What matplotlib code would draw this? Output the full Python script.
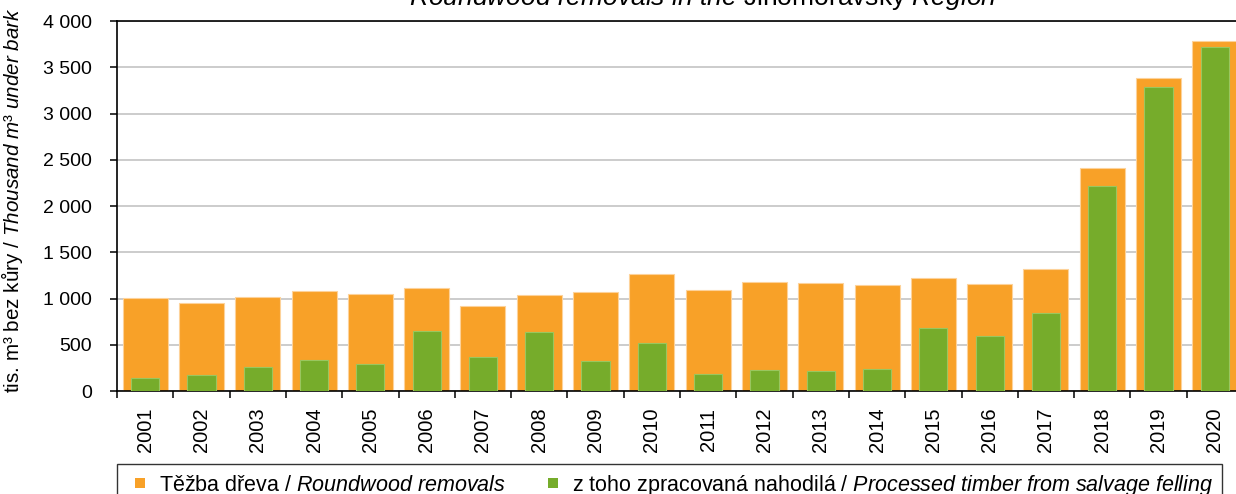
import matplotlib
matplotlib.use("Agg")
import matplotlib.pyplot as plt
import numpy as np
from matplotlib.ticker import FuncFormatter, FixedLocator
from matplotlib.patches import Rectangle
from matplotlib.legend_handler import HandlerPatch

plt.rcParams['font.family'] = ['Liberation Sans', 'DejaVu Sans']
plt.rcParams['mathtext.fontset'] = 'custom'
plt.rcParams['mathtext.rm'] = 'Liberation Sans'
plt.rcParams['mathtext.it'] = 'Liberation Sans:italic'

# data
years = [str(y) for y in range(2001, 2021)]
removals = [1005, 955, 1016, 1085, 1049, 1110, 922, 1034, 1070, 1261,
            1096, 1178, 1164, 1146, 1222, 1157, 1320, 2411, 3387, 3787]
salvage = [140, 169, 263, 335, 292, 645, 364, 634, 324, 519,
           184, 227, 216, 241, 681, 598, 843, 2220, 3286, 3719]
yticks = [0, 500, 1000, 1500, 2000, 2500, 3000, 3500, 4000]

W, H = 1236, 494
fig = plt.figure(figsize=(W / 100, H / 100), dpi=100)
ax = fig.add_axes([117 / W, 1 - 391 / H, (1243 - 117) / W, (391 - 21) / H])

x = np.arange(len(years))
b1 = ax.bar(x, removals, width=0.8, color='#F8A128', edgecolor='#FDD29A',
            linewidth=0.8, zorder=2)
b2 = ax.bar(x, salvage, width=0.5, color='#76AC2B', edgecolor='#9AC65E',
            linewidth=0.8, zorder=3)

ax.set_xlim(-0.5, len(years) - 0.5)
ax.set_ylim(0, 4000)
ax.set_yticks(yticks)
ax.yaxis.set_major_formatter(FuncFormatter(lambda v, p: f"{int(v):,}".replace(",", " ")))
ax.set_xticks(x)
ax.set_xticklabels(years, rotation=90)
ax.xaxis.set_minor_locator(FixedLocator(np.arange(-0.5, len(years), 1.0)))
ax.tick_params(axis='x', which='major', length=0, pad=12, labelsize=14.5)
ax.tick_params(axis='x', which='minor', length=5, width=1.1, direction='out')
ax.tick_params(axis='y', length=5, width=1.1, pad=13, labelsize=14)

ax.grid(axis='y', color='#C8C8C8', linewidth=1.3, zorder=0)
ax.set_axisbelow(True)
for s in ['left', 'bottom', 'top']:
    ax.spines[s].set_linewidth(1.2)
    ax.spines[s].set_color('black')
ax.spines['right'].set_visible(False)

ax.set_ylabel("tis. m³ bez kůry / $\\mathit{Thousand\\ m³\\ under\\ bark}$", fontsize=14.9)
ax.yaxis.set_label_coords((25 - 117) / (1243 - 117), (391 - 200) / 370)

fig.text(703 / W, 1 - 5 / H,
         "$\\mathit{Roundwood\\ removals\\ in\\ the}$ Jihomoravský $\\mathit{Region}$",
         ha='center', va='baseline', fontsize=19)


def small_square(legend, orig_handle, xdescent, ydescent, width, height, fontsize):
    w, h = 7.2, 7.8
    return Rectangle((-xdescent + width - w, -ydescent + (height - h) / 2), w, h)


h1, h2 = b1.patches[0], b2.patches[0]
leg = fig.legend([h1, h2],
                 ["Těžba dřeva / $\\mathit{Roundwood\\ removals}$",
                  "z toho zpracovaná nahodilá / $\\mathit{Processed\\ timber\\ from\\ salvage\\ felling}$"],
                 loc='upper left', bbox_to_anchor=(117 / W, 1 - 464 / H - 0.2, (1222 - 117) / W, 0.2),
                 bbox_transform=fig.transFigure, mode='expand', ncol=2, fontsize=15.5,
                 frameon=True, fancybox=False, edgecolor='black', borderpad=0.4,
                 borderaxespad=0, handlelength=0.9, handleheight=0.7, handletextpad=0.65,
                 handler_map={h1: HandlerPatch(patch_func=small_square),
                              h2: HandlerPatch(patch_func=small_square)})
leg.get_frame().set_linewidth(1.0)
for p in leg.get_patches():
    p.set_linewidth(0)

fig.savefig("out.png", dpi=100)
